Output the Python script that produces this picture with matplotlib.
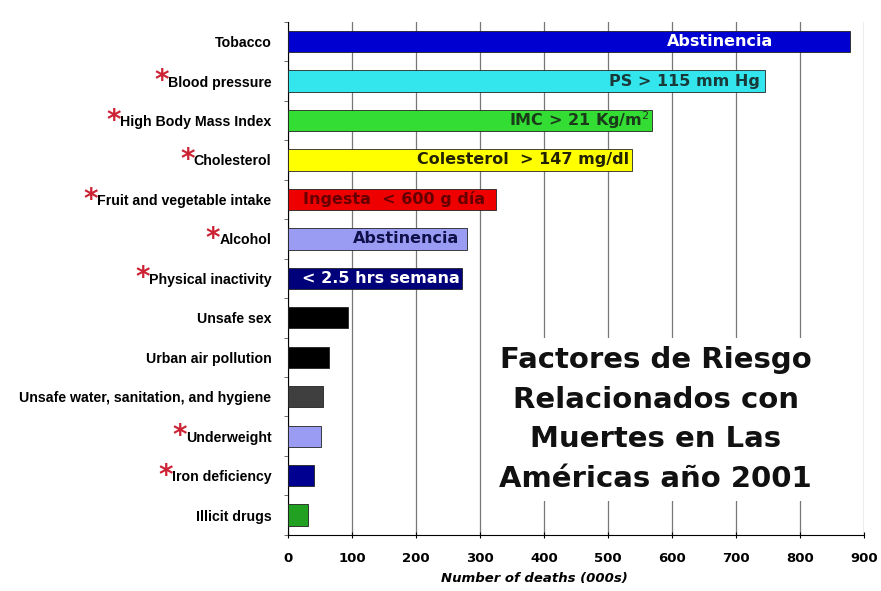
import matplotlib
matplotlib.use("Agg")
import matplotlib.pyplot as plt
import numpy as np

# datos (miles de muertes)
factors = ["Tobacco", "Blood pressure", "High Body Mass Index", "Cholesterol",
           "Fruit and vegetable intake", "Alcohol", "Physical inactivity",
           "Unsafe sex", "Urban air pollution", "Unsafe water, sanitation, and hygiene",
           "Underweight", "Iron deficiency", "Illicit drugs"]
deaths = [877, 745, 569, 537, 325, 280, 272, 93, 64, 55, 52, 40, 31]
starred = [False, True, True, True, True, True, True, False, False, False, True, True, False]
bar_colors = ["#0000d0", "#33e6ee", "#33dd33", "#ffff00", "#ee0000", "#9a9cf4",
              "#00007a", "#000000", "#000000", "#3f3f3f", "#9a9cf4", "#000090", "#22a022"]

# textos dentro de las barras
bar_notes = ["Abstinencia", "PS > 115 mm Hg", "IMC > 21 Kg/m$^2$", "Colesterol  > 147 mg/dl",
             "Ingesta  < 600 g día", "Abstinencia", "< 2.5 hrs semana"]
note_colors = ["white", "#1a3a3a", "#1a3a1a", "#222200", "#660000", "#10104a", "white"]
note_ends = [758, 737, 565, 532, 307, 268, 268]

title = "Factores de Riesgo\nRelacionados con\nMuertes en Las\nAméricas año 2001"

fig = plt.figure(figsize=(8.81, 5.91), dpi=100)
ax = fig.add_axes([0.327, 0.095, 0.654, 0.868])

y = np.arange(len(factors))
ax.barh(y, deaths, height=0.54, color=bar_colors, edgecolor="#222222", linewidth=0.6, zorder=3)

for i, (txt, col, xe) in enumerate(zip(bar_notes, note_colors, note_ends)):
    ax.text(xe, i, txt, ha="right", va="center", color=col, fontsize=11.5,
            fontweight="bold", family="DejaVu Sans", zorder=4)

ax.set_xlim(0, 900)
ax.set_ylim(len(factors) - 0.5, -0.5)
ax.set_xticks(np.arange(0, 901, 100))
ax.set_yticks(y)
ax.set_yticklabels(factors, fontsize=10.2, fontweight="bold", family="Liberation Sans")
ax.set_yticks(np.arange(-0.5, len(factors), 1), minor=True)
ax.tick_params(axis="y", which="major", length=0, pad=12)
ax.tick_params(axis="y", which="minor", length=3, width=0.6, color="#555555")
ax.tick_params(axis="x", length=4, width=0.8, direction="inout", pad=10)
for lab in ax.get_xticklabels():
    lab.set_fontweight("bold")
    lab.set_fontsize(9.5)

ax.grid(axis="x", color="#777777", linewidth=0.9, zorder=0)
ax.set_axisbelow(True)
for s in ["top", "right"]:
    ax.spines[s].set_visible(False)
ax.spines["left"].set_linewidth(0.8)
ax.spines["bottom"].set_linewidth(0.8)

ax.set_xlabel("Number of deaths (000s)", fontsize=9.5, fontweight="bold", style="italic",
              labelpad=5)
ax.xaxis.set_label_coords(0.427, -0.072)

ax.text(0.638, 0.225, title, transform=ax.transAxes, ha="center", va="center",
        fontsize=21, fontweight="bold", linespacing=1.52, color="#111111",
        bbox=dict(facecolor="white", edgecolor="none", pad=6), zorder=5)

# asteriscos rojos a la izquierda de algunas etiquetas
fig.canvas.draw()
renderer = fig.canvas.get_renderer()
for lab, star in zip(ax.get_yticklabels(), starred):
    if not star:
        continue
    bb = lab.get_window_extent(renderer)
    fig.text(bb.x0 / fig.bbox.width + 0.001, (bb.y0 + bb.height * 0.6) / fig.bbox.height, "*",
             ha="right", va="center", color="#cc2233", fontsize=20, fontweight="bold")

fig.savefig("out.png", dpi=100)
